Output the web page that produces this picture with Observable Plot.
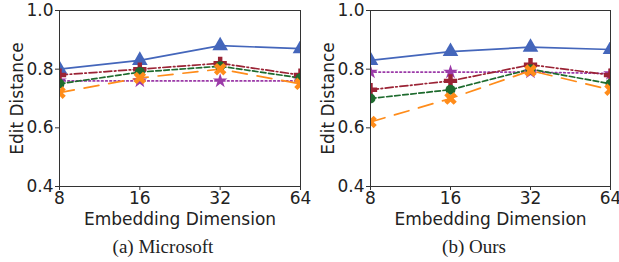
<!DOCTYPE html>
<html>
<head>
<meta charset="utf-8">
<script src="https://cdn.jsdelivr.net/npm/d3@7"></script>
<script src="https://cdn.jsdelivr.net/npm/@observablehq/plot@0.6"></script>
<style>
  body { margin: 0; background: #fff; }
  #wrap { position: relative; width: 619px; height: 262px; overflow: hidden; }
  .panel { position: absolute; top: 0; }
  .cap { position: absolute; font-family: "Liberation Serif", serif; font-size: 19px; color: #222; transform: translateX(-50%); white-space: nowrap; top: 236px; }
</style>
</head>
<body>
<div id="wrap">
  <div class="panel" id="p1" style="left:0px"></div>
  <div class="panel" id="p2" style="left:310px"></div>
  <div class="cap" style="left:163px">(a) Microsoft</div>
  <div class="cap" style="left:474px">(b) Ours</div>
</div>
<script>
const dims = [8, 16, 32, 64];
const yTicks = [0.4, 0.6, 0.8, 1.0];
const xLabel = "Embedding Dimension";
const yLabel = "Edit Distance";

// (a) Microsoft
const msTriangle = [0.80, 0.83, 0.88, 0.87];
const msPlus     = [0.78, 0.80, 0.82, 0.78];
const msCircle   = [0.75, 0.79, 0.81, 0.77];
const msX        = [0.72, 0.77, 0.80, 0.75];
const msStar     = [0.76, 0.76, 0.76, 0.76];

// (b) Ours
const oursTriangle = [0.83, 0.86, 0.875, 0.867];
const oursPlus     = [0.73, 0.76, 0.815, 0.78];
const oursCircle   = [0.70, 0.73, 0.80, 0.75];
const oursX        = [0.62, 0.70, 0.795, 0.73];
const oursStar     = [0.79, 0.79, 0.79, 0.785];

const styles = [
  {key: "triangle", color: "#4466bb", dash: null, symbol: "triangle", rotate: 0, r: 5.8},
  {key: "star", color: "#9b3aa8", dash: "1.6,2.6", symbol: "star", rotate: 0, r: 4.6},
  {key: "plus", color: "#9b2335", dash: "8,2.6,1.6,2.6", symbol: "cross", rotate: 0, r: 5.6},
  {key: "circle", color: "#1e6b2e", dash: "5.5,2.6", symbol: "circle", rotate: 0, r: 5},
  {key: "x", color: "#ff8c1a", dash: "15,10", symbol: "cross", rotate: 45, r: 5.6}
];

function panel(seriesMap, width, marginLeft, marginRight) {
  const marks = [];
  for (const s of styles) {
    const vals = seriesMap[s.key];
    const rows = dims.map((d, i) => ({dim: d, value: vals[i]}));
    marks.push(Plot.line(rows, {x: "dim", y: "value", stroke: s.color, strokeWidth: 1.7,
      strokeDasharray: s.dash, clip: true}));
  }
  for (const s of styles) {
    const vals = seriesMap[s.key];
    const rows = dims.map((d, i) => ({dim: d, value: vals[i]}));
    marks.push(Plot.dot(rows, {x: "dim", y: "value", fill: s.color, stroke: "none",
      symbol: s.symbol, r: s.r, rotate: s.rotate, clip: true}));
  }
  marks.push(Plot.frame({stroke: "#333", strokeWidth: 1}));
  marks.push(Plot.axisX({ticks: dims, tickFormat: d => String(d), tickSize: 4, tickPadding: 1,
    label: xLabel, labelAnchor: "center", labelOffset: 38, labelArrow: "none", stroke: "#333"}));
  marks.push(Plot.axisY({ticks: yTicks, tickFormat: d => d.toFixed(1), tickSize: 4, tickPadding: 2,
    label: yLabel, labelAnchor: "center", labelOffset: 49, labelArrow: "none", stroke: "#333"}));
  return Plot.plot({
    width, height: 232,
    marginLeft, marginRight, marginTop: 10, marginBottom: 46,
    style: {fontFamily: "DejaVu Sans", fontSize: "17px", color: "#222", background: "transparent", overflow: "visible"},
    x: {type: "log", base: 2, domain: [8, 64]},
    y: {domain: [0.4, 1.0]},
    marks
  });
}

document.getElementById("p1").append(panel(
  {triangle: msTriangle, plus: msPlus, circle: msCircle, x: msX, star: msStar}, 310, 59, 10));
document.getElementById("p2").append(panel(
  {triangle: oursTriangle, plus: oursPlus, circle: oursCircle, x: oursX, star: oursStar}, 309, 60, 9));
</script>
</body>
</html>
